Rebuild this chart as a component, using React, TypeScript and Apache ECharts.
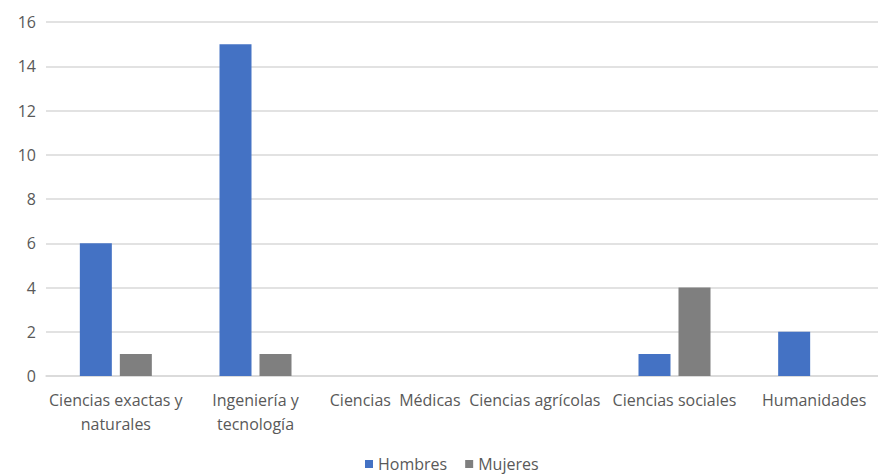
import React, { useEffect, useRef } from "react";
import * as echarts from "echarts";

const categories = [
  "Ciencias exactas y naturales",
  "Ingeniería y tecnología",
  "Ciencias Médicas",
  "Ciencias agrícolas",
  "Ciencias sociales",
  "Humanidades",
];
const categoryLabels = [
  "Ciencias exactas y\nnaturales",
  "Ingeniería y\ntecnología",
  "Ciencias  Médicas",
  "Ciencias agrícolas",
  "Ciencias sociales",
  "Humanidades",
];
const hombres = [6, 15, null, null, 1, 2];
const mujeres = [1, 1, null, null, 4, null];
const yTicks = { min: 0, max: 16, interval: 2 };

export default function App() {
  const ref = useRef<HTMLDivElement>(null);
  useEffect(() => {
    document.body.style.margin = "0";
    const chart = echarts.init(ref.current!, null, { renderer: "svg" });
    const font = "'Open Sans', sans-serif";
    chart.setOption({
      animation: false,
      textStyle: { fontFamily: font },
      grid: { left: 46, right: 2, top: 22, bottom: 98 },
      legend: {
        data: ["Hombres", "Mujeres"],
        left: 365,
        top: 456,
        padding: 0,
        itemWidth: 8,
        itemHeight: 8,
        itemGap: 18,
        icon: "rect",
        textStyle: { color: "#595959", fontSize: 16, lineHeight: 16, fontFamily: font },
      },
      xAxis: {
        type: "category",
        data: categories,
        axisLine: { lineStyle: { color: "#d9d9d9", width: 1.5 } },
        axisTick: { show: false },
        axisLabel: {
          interval: 0,
          color: "#595959",
          fontSize: 16,
          lineHeight: 24,
          margin: 12,
          formatter: (_v: string, i: number) => categoryLabels[i],
        },
      },
      yAxis: {
        type: "value",
        min: yTicks.min,
        max: yTicks.max,
        interval: yTicks.interval,
        axisLabel: { color: "#595959", fontSize: 16, margin: 10 },
        splitLine: { lineStyle: { color: "#d9d9d9", width: 1.5 } },
        axisLine: { show: false },
        axisTick: { show: false },
      },
      series: [
        {
          name: "Hombres",
          type: "bar",
          data: hombres,
          barWidth: 32,
          barGap: "25%",
          itemStyle: { color: "#4472C4" },
        },
        {
          name: "Mujeres",
          type: "bar",
          data: mujeres,
          barWidth: 32,
          itemStyle: { color: "#7F7F7F" },
        },
      ],
    });
    return () => chart.dispose();
  }, []);
  return (
    <div style={{ width: 878, height: 474, overflow: "hidden", position: "relative", background: "#fff" }}>
      <div ref={ref} style={{ width: 886, height: 474 }} />
    </div>
  );
}
